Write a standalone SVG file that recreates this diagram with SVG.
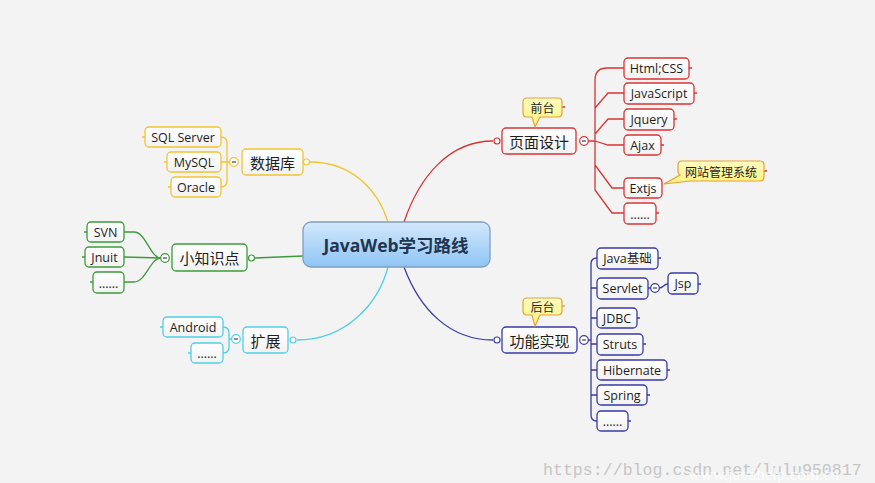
<svg xmlns="http://www.w3.org/2000/svg" width="875" height="483" viewBox="0 0 875 483">
<defs>
<linearGradient id="gCenter" x1="0" y1="0" x2="0" y2="1"><stop offset="0" stop-color="#d3e8fc"/><stop offset="1" stop-color="#8fc5f4"/></linearGradient>
<linearGradient id="gNode" x1="0" y1="0" x2="0" y2="1"><stop offset="0" stop-color="#ffffff"/><stop offset="1" stop-color="#f2f2f2"/></linearGradient>
<linearGradient id="gCall" x1="0" y1="0" x2="0" y2="1"><stop offset="0" stop-color="#fffcc0"/><stop offset="1" stop-color="#fff27a"/></linearGradient>
</defs>
<style>
.bg{fill:#f3f3f3}
.n{fill:url(#gNode);stroke-width:1.3}
.y{stroke:#f2c531}.g{stroke:#3c9a3c}.c{stroke:#4fd0e6}.r{stroke:#d93434}.b{stroke:#3a3aa6}
.ln{fill:none;stroke-width:1.3}
.cc{fill:#fff;stroke-width:1.2}
.dash{stroke:#444;stroke-width:1.2}
.t{font-family:"Open Sans","Noto Sans CJK SC",sans-serif;font-size:12.5px;fill:#1e1e1e;text-anchor:middle;dominant-baseline:central}
.tz{font-family:"Noto Sans CJK SC",sans-serif;font-size:15px;fill:#1e1e1e;text-anchor:middle;dominant-baseline:central}
.tc{font-family:"Noto Sans CJK SC",sans-serif;font-size:12px;fill:#1e1e1e;text-anchor:middle;dominant-baseline:central}
.call{fill:url(#gCall);stroke:#e3a23c;stroke-width:1.2}
</style>
<rect class="bg" x="0" y="0" width="875" height="483"/>

<g id="connectors">
<!-- main branches -->
<path class="ln y" d="M388,222 C378,190 352,162 310,162"/>
<path class="ln r" d="M404,222 C420,175 450,141 493,141"/>
<path class="ln g" d="M255,258 L303,256"/>
<path class="ln c" d="M388,267 C378,305 345,340 297,340"/>
<path class="ln b" d="M404,267 C420,310 450,340 493,340"/>
<!-- yellow children -->
<path class="ln y" d="M221,137 Q227,137 227,143 L227,181 Q227,187 221,187 M221,162 L230,162"/>
<path class="ln y" d="M145,137 h-3 M167,162 h-3 M171,187 h-3"/>
<!-- green children -->
<path class="ln g" d="M124,232 L134,232 C146,232 150,258 161,258 M124,257 L161,258 M124,282 L134,282 C146,282 150,258 161,258"/>
<path class="ln g" d="M87,232 h-3 M85,257 h-3 M93,282 h-3"/>
<!-- cyan children -->
<path class="ln c" d="M223,327 Q229,327 229,333 L229,347 Q229,353 223,353 M229,339 L232,339"/>
<path class="ln c" d="M163,327 h-3 M191,353 h-3"/>
<!-- red children -->
<path class="ln r" d="M588,141 L595,141 M595,141 L595,80 Q595,68 607,68 L624,68 M595,141 L595,108 L608,93 L624,93 M595,141 L595,134 L608,119 L624,119 M595,141 L608,145 L624,145 M595,141 L595,165 L612,188 L624,188 M595,141 L595,190 L612,213 L624,213"/>
<path class="ln r" d="M689,68 h3 M694,93 h3 M674,119 h3 M661,145 h3 M656,213 h3"/>
<!-- navy children -->
<path class="ln b" d="M588,340 L591,340 M597,258 Q591,258 591,264 L591,415 Q591,421 597,421 M591,288 L597,288 M591,318 L597,318 M591,344 L597,344 M591,370 L597,370 M591,395 L597,395"/>
<path class="ln b" d="M658,258 h3 M643,344 h3 M637,318 h3 M667,370 h3 M647,395 h3 M628,421 h3 M698,284 h3 M648,288 L651,288 M659,288 C664,288 663,284 668,284"/>
<path class="ln r" d="M562,107 h3 M764,171 h3"/>
<path class="ln y" d="M562,306 h3" style="stroke:#e3a23c"/>
</g>

<g id="center">
<rect x="303" y="222" width="187" height="45" rx="8" fill="url(#gCenter)" stroke="#7f9fc0" stroke-width="1.3"/>
<text x="396" y="244.5" text-anchor="middle" dominant-baseline="central" font-family="'Open Sans','Noto Sans CJK SC',sans-serif" font-size="17.5" font-weight="bold" fill="#1f3550">JavaWeb学习路线</text>
</g>

<g id="shujuku">
<rect class="n y" x="242" y="149" width="61" height="26" rx="4"/>
<text class="tz" x="272.5" y="162">数据库</text>
<circle class="cc y" cx="234" cy="162" r="4.3"/><path class="dash" d="M232,162 h4"/>
<circle class="cc y" cx="306.5" cy="162" r="3"/>
</g>
<g id="sqlserver"><rect class="n y" x="145" y="127" width="76" height="20" rx="4"/><text class="t" x="183" y="137">SQL Server</text></g>
<g id="mysql"><rect class="n y" x="167" y="152" width="54" height="20" rx="4"/><text class="t" x="194" y="162">MySQL</text></g>
<g id="oracle"><rect class="n y" x="171" y="177" width="50" height="20" rx="4"/><text class="t" x="196" y="187">Oracle</text></g>

<g id="xiaozhishidian">
<rect class="n g" x="172" y="244" width="75" height="27" rx="4"/>
<text class="tz" x="209.5" y="257.5">小知识点</text>
<circle class="cc g" cx="165" cy="258" r="4.3"/><path class="dash" d="M163,258 h4"/>
<circle class="cc g" cx="251.5" cy="258" r="3"/>
</g>
<g id="svn"><rect class="n g" x="87" y="222" width="37" height="20" rx="4"/><text class="t" x="105.5" y="232">SVN</text></g>
<g id="jnuit"><rect class="n g" x="85" y="247" width="39" height="20" rx="4"/><text class="t" x="104.5" y="257">Jnuit</text></g>
<g id="more1"><rect class="n g" x="93" y="272" width="31" height="21" rx="4"/><text class="t" x="108.5" y="283">......</text></g>

<g id="kuozhan">
<rect class="n c" x="243" y="327" width="45" height="26" rx="4"/>
<text class="tz" x="265.5" y="340">扩展</text>
<circle class="cc c" cx="236" cy="339" r="4.3"/><path class="dash" d="M234,339 h4"/>
<circle class="cc c" cx="293" cy="340" r="3"/>
</g>
<g id="android"><rect class="n c" x="163" y="317" width="60" height="20" rx="4"/><text class="t" x="193" y="327">Android</text></g>
<g id="more2"><rect class="n c" x="191" y="343" width="32" height="20" rx="4"/><text class="t" x="207" y="353">......</text></g>

<g id="yemiansheji">
<rect class="n r" x="502" y="128" width="74" height="26" rx="4"/>
<text class="tz" x="539" y="141">页面设计</text>
<circle class="cc r" cx="584" cy="141" r="4.3"/><path class="dash" d="M582,141 h4"/>
<circle class="cc r" cx="497" cy="141" r="3"/>
</g>
<g id="qiantai">
<path class="call" d="M527,98 H558 Q562,98 562,102 V113 Q562,117 558,117 H540 L535,127 L532,117 H527 Q523,117 523,113 V102 Q523,98 527,98 Z"/>
<text class="tc" x="542.5" y="107.5">前台</text>
</g>
<g id="htmlcss"><rect class="n r" x="624" y="58" width="65" height="21" rx="4"/><text class="t" x="656.5" y="68.5">Html;CSS</text></g>
<g id="javascript"><rect class="n r" x="624" y="83" width="70" height="21" rx="4"/><text class="t" x="659" y="93.5">JavaScript</text></g>
<g id="jquery"><rect class="n r" x="624" y="109" width="50" height="21" rx="4"/><text class="t" x="649" y="119.5">Jquery</text></g>
<g id="ajax"><rect class="n r" x="624" y="135" width="37" height="20" rx="4"/><text class="t" x="642.5" y="145">Ajax</text></g>
<g id="extjs"><rect class="n r" x="624" y="178" width="38" height="20" rx="4"/><text class="t" x="643" y="188">Extjs</text></g>
<g id="more3"><rect class="n r" x="624" y="203" width="32" height="21" rx="4"/><text class="t" x="640" y="214">......</text></g>
<g id="wangzhan">
<path class="call" d="M682,161 H760 Q764,161 764,165 V177 Q764,181 760,181 H690 L664,184 L680,175 Q678,174 678,172 V165 Q678,161 682,161 Z"/>
<text class="tc" x="721" y="171">网站管理系统</text>
</g>

<g id="gongneng">
<rect class="n b" x="502" y="327" width="75" height="26" rx="4"/>
<text class="tz" x="539.5" y="340">功能实现</text>
<circle class="cc b" cx="584" cy="340" r="4.3"/><path class="dash" d="M582,340 h4"/>
<circle class="cc b" cx="497" cy="340" r="3"/>
</g>
<g id="houtai">
<path class="call" d="M527,298 H558 Q562,298 562,302 V311 Q562,315 558,315 H540 L535,326 L532,315 H527 Q523,315 523,311 V302 Q523,298 527,298 Z"/>
<text class="tc" x="542.5" y="306.5">后台</text>
</g>
<g id="javajichu"><rect class="n b" x="597" y="248" width="61" height="21" rx="4"/><text class="t" x="627.5" y="258.5">Java基础</text></g>
<g id="servlet"><rect class="n b" x="597" y="278" width="51" height="21" rx="4"/><text class="t" x="622.5" y="288.5">Servlet</text>
<circle class="cc b" cx="655" cy="288" r="4.3"/><path class="dash" d="M653,288 h4"/></g>
<g id="jsp"><rect class="n b" x="668" y="273" width="30" height="21" rx="4"/><text class="t" x="683" y="283.5">Jsp</text></g>
<g id="jdbc"><rect class="n b" x="597" y="308" width="40" height="20" rx="4"/><text class="t" x="617" y="318">JDBC</text></g>
<g id="struts"><rect class="n b" x="597" y="334" width="46" height="21" rx="4"/><text class="t" x="620" y="344.5">Struts</text></g>
<g id="hibernate"><rect class="n b" x="597" y="360" width="70" height="20" rx="4"/><text class="t" x="632" y="370">Hibernate</text></g>
<g id="spring"><rect class="n b" x="597" y="385" width="50" height="20" rx="4"/><text class="t" x="622" y="395">Spring</text></g>
<g id="more4"><rect class="n b" x="597" y="411" width="31" height="20" rx="4"/><text class="t" x="612.5" y="421">......</text></g>

<text x="543" y="470" font-family="'Liberation Mono','Noto Sans CJK SC',monospace" font-size="16.6" fill="#c6c6c6" dominant-baseline="central">https://blog.csdn.net/lulu950817</text>
<text x="688" y="474" font-family="'Liberation Serif',serif" font-size="17" fill="#ffffff" fill-opacity="0.8" dominant-baseline="central">www.javahelp.com.cn</text>
</svg>
